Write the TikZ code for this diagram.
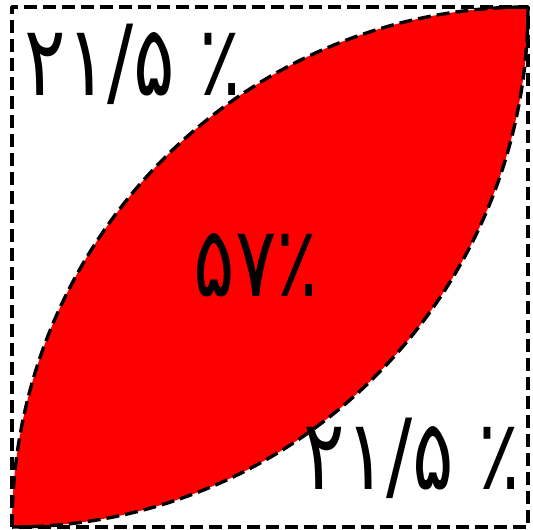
\documentclass[tikz,border=0pt]{standalone}
\usepackage{graphicx}
\usepackage{fontspec}
\newfontfamily\persfont[Script=Arabic]{DejaVu Sans}
\TeXXeTstate=1
\newcommand\narrow[1]{\scalebox{0.79}[1]{#1}}
\begin{document}
\begin{tikzpicture}[x=1pt,y=1pt,line join=round,
 frame/.style={line width=3.4pt,dash pattern=on 13pt off 6pt},
 share/.style={inner sep=0pt,font=\persfont\fontsize{98}{108}\selectfont}]
\useasboundingbox (0,0) rectangle (533,530);
% lens = overlap of the two quarter discs
\fill[red] (12,3) arc[start angle=180,end angle=90,x radius=516,y radius=520]
  arc[start angle=0,end angle=-90,x radius=516,y radius=520] -- cycle;
\draw[frame] (12,3) rectangle (528,523);
\draw[frame] (12,3) arc[start angle=180,end angle=90,x radius=516,y radius=520];
\draw[frame] (12,3) arc[start angle=270,end angle=360,x radius=516,y radius=520];
\node[share] (topleft) at (133,466) {\narrow{\beginR\beginL ۲۱/۵ ٪\endL\endR}};
\node[share] (middle) at (256,265) {\narrow{\beginR\beginL ۵۷٪\endL\endR}};
\node[share] (bottomright) at (412,72) {\narrow{\beginR\beginL ۲۱/۵ ٪\endL\endR}};
\end{tikzpicture}
\end{document}
